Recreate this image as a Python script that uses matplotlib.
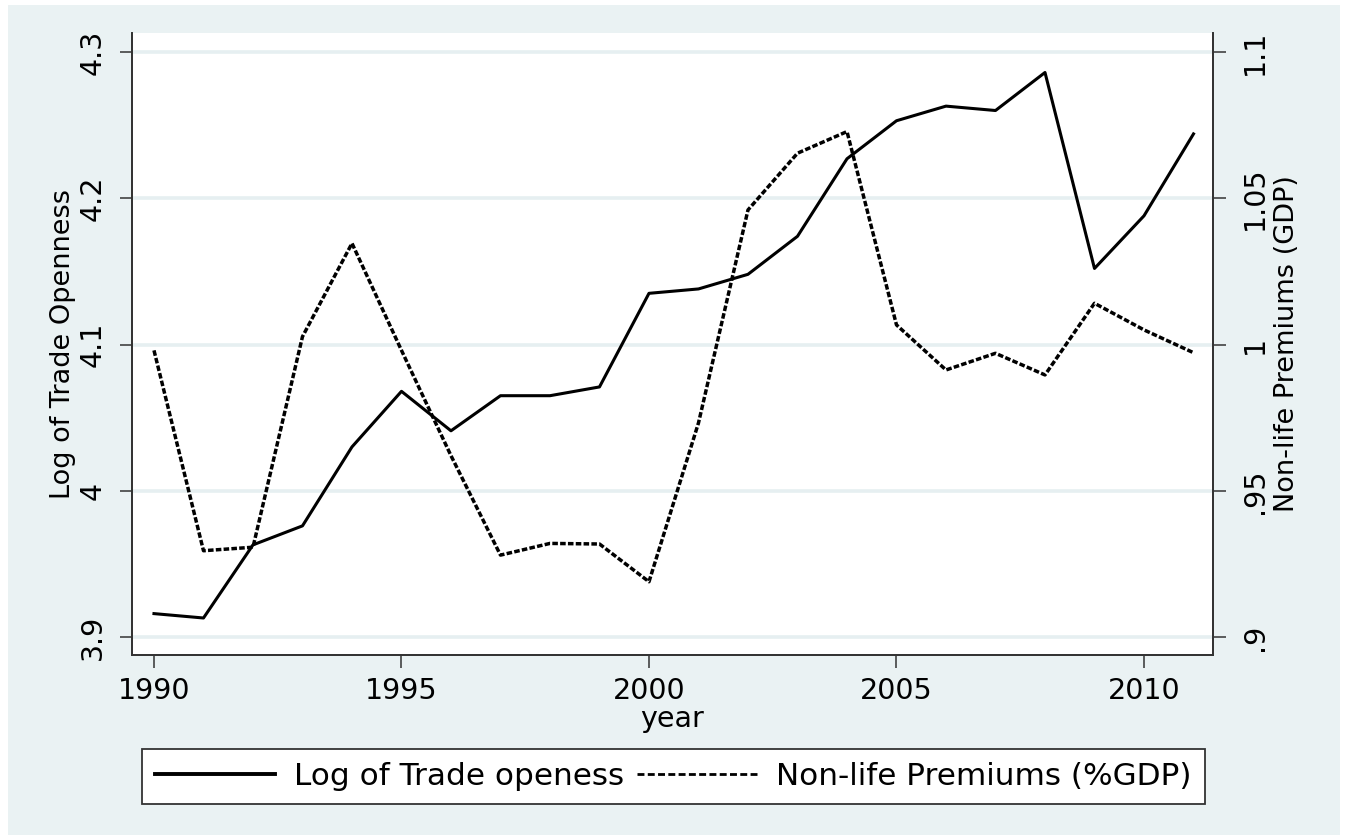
import matplotlib
matplotlib.use('Agg')
import matplotlib.pyplot as plt
from matplotlib.patches import Rectangle
from matplotlib.lines import Line2D

# ---- data ----
years = list(range(1990, 2012))
trade_openness = [3.916, 3.913, 3.963, 3.976, 4.030, 4.068, 4.041, 4.065, 4.065, 4.071,
                  4.135, 4.138, 4.148, 4.174, 4.227, 4.253, 4.263, 4.260, 4.286, 4.152,
                  4.188, 4.244]
nonlife_premiums = [0.998, 0.9295, 0.9307, 1.0027, 1.0346, 0.998, 0.962, 0.928, 0.932, 0.9318,
                    0.9189, 0.9732, 1.046, 1.0654, 1.0728, 1.0067, 0.9913, 0.997, 0.9896, 1.0141,
                    1.005, 0.9972]
left_ticks = [3.9, 4.0, 4.1, 4.2, 4.3]
left_labels = ['3.9', '4', '4.1', '4.2', '4.3']
right_ticks = [0.9, 0.95, 1.0, 1.05, 1.1]
right_labels = ['.9', '.95', '1', '1.05', '1.1']
x_ticks = [1990, 1995, 2000, 2005, 2010]
series_names = ['Log of Trade openess', 'Non-life Premiums (%GDP)']

plt.rcParams['font.family'] = ['DejaVu Sans']

W, H = 1347, 840
fig = plt.figure(figsize=(W / 100, H / 100), dpi=100)
fig.patch.set_facecolor('white')
bg = '#EAF2F3'
fig.patches.append(Rectangle((8 / W, 1 - 835 / H), (1340 - 8) / W, (835 - 5) / H,
                             transform=fig.transFigure, facecolor=bg, edgecolor='none', zorder=-10))

ax = fig.add_axes([132 / W, 1 - 655 / H, (1213 - 132) / W, (655 - 33) / H])
ax.set_facecolor('white')
axis_col = '#333333'

ax.plot(years, trade_openness, color='black', lw=2.2, zorder=3)
ax2 = ax.twinx()
ax2.plot(years, nonlife_premiums, color='black', lw=2.5, linestyle=(0, (1.6, 0.65)), zorder=3)

ax.set_xlim(1989.556, 2011.394)
ax.set_ylim(3.8877, 4.313)
ax2.set_ylim(0.89385, 1.1065)

ax.set_xticks(x_ticks)
ax.set_xticklabels([str(x) for x in x_ticks])
ax.set_yticks(left_ticks)
ax.set_yticklabels(left_labels)
ax2.set_yticks(right_ticks)
ax2.set_yticklabels(right_labels)

ax.yaxis.grid(True, color='#E6EFF1', lw=2.6)
ax.xaxis.grid(False)
ax.set_axisbelow(True)

for a in (ax, ax2):
    a.spines['top'].set_visible(False)
    for s in ('left', 'bottom', 'right'):
        a.spines[s].set_color(axis_col)
        a.spines[s].set_linewidth(1.3)

ax.tick_params(axis='x', length=9, width=1.1, color=axis_col, labelsize=20.5, pad=7)
ax.tick_params(axis='y', length=9, width=1.1, color=axis_col, labelsize=20.5, pad=9.4, labelrotation=90)
ax2.tick_params(axis='y', length=9, width=1.1, color=axis_col, labelsize=20.5, pad=11, labelrotation=90)
for lab in ax.get_yticklabels():
    lab.set_va('center')
for lab in ax2.get_yticklabels():
    lab.set_va('center')

ax.set_xlabel('year', fontsize=20.5, labelpad=0)
ax.set_ylabel('Log of Trade Openness', fontsize=19.5, labelpad=2)
ax2.set_ylabel('Non-life Premiums (GDP)', fontsize=19.5, labelpad=4)

handles = [Line2D([], [], color='black', lw=2.8),
           Line2D([], [], color='black', lw=2.0, linestyle=(0, (2.5, 1.2)))]
leg = fig.legend(handles, series_names, loc='center', bbox_to_anchor=(0.5, 1 - 776.5 / H),
                 bbox_transform=fig.transFigure, ncol=2, fontsize=22.4, handlelength=3.86,
                 handletextpad=0.61, columnspacing=0.4, frameon=True, fancybox=False,
                 edgecolor=axis_col, borderpad=0.43, borderaxespad=0)
leg.get_frame().set_linewidth(1.3)
leg.get_frame().set_facecolor('white')
leg.get_frame().set_alpha(1)

fig.savefig('out.png', dpi=100, facecolor=fig.get_facecolor())
